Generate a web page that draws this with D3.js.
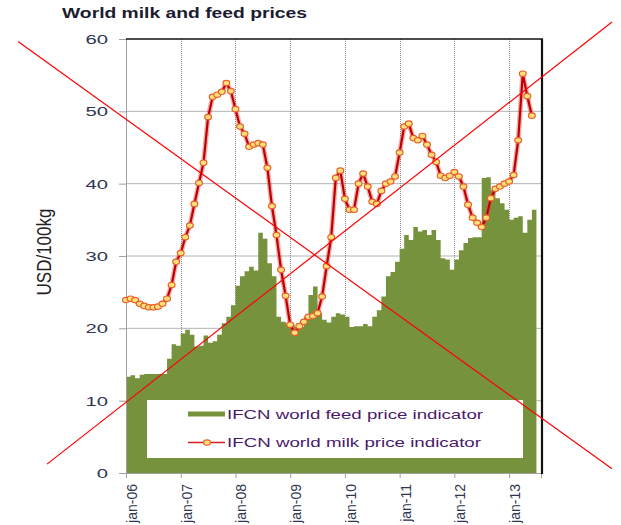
<!DOCTYPE html>
<html>
<head>
<meta charset="utf-8">
<script src="https://cdn.jsdelivr.net/npm/d3@7"></script>
<style>
  html, body { margin: 0; padding: 0; background: #fff; }
  svg { display: block; font-family: "Liberation Sans", Arial, sans-serif; }
</style>
</head>
<body>
<svg id="chart" width="621" height="525"></svg>
<script>
// ---- data (monthly, Jan 2006 .. Jun 2013), USD/100kg ----
const title = "World milk and feed prices";
const yTitle = "USD/100kg";
const seriesNames = ["IFCN world feed price indicator", "IFCN world milk price indicator"];
const tickLabels = ["jan-06", "jan-07", "jan-08", "jan-09", "jan-10", "jan-11", "jan-12", "jan-13"];
const yTicks = [0, 10, 20, 30, 40, 50, 60];

const milkPrice = [
  23.9, 24.1, 23.9, 23.4, 23.1, 22.9, 22.9, 23.0, 23.4, 24.1,
  26.0, 29.2, 30.4, 32.6, 34.2, 37.2, 40.1, 42.9, 49.2, 52.0,
  52.3, 52.7, 53.9, 52.8, 50.3, 47.9, 46.9, 45.1, 45.4, 45.6,
  45.4, 42.2, 36.9, 32.9, 28.1, 24.5, 20.5, 19.4, 20.3, 20.9,
  21.6, 21.7, 22.1, 24.4, 28.6, 32.6, 40.8, 41.8, 37.9, 36.4,
  36.4, 40.0, 41.4, 39.6, 37.5, 37.2, 39.0, 40.0, 40.3, 41.0,
  44.3, 47.9, 48.3, 46.3, 46.0, 46.6, 45.4, 44.0, 43.0, 41.1,
  40.8, 41.1, 41.6, 41.0, 39.6, 37.1, 35.3, 34.6, 34.0, 35.3,
  38.0, 39.3, 39.6, 40.0, 40.3, 41.2, 46.0, 55.2, 52.1, 49.4
];

const feedPrice = [
  13.3, 13.5, 13.1, 13.6, 13.7, 13.7, 13.7, 13.7, 13.7, 15.8,
  17.8, 17.6, 19.3, 19.8, 19.1, 17.5, 17.6, 19.0, 18.0, 18.2,
  19.1, 20.7, 21.6, 23.2, 25.9, 27.2, 27.9, 28.5, 28.0, 33.2,
  32.4, 29.0, 27.2, 21.6, 20.9, 20.7, 20.5, 20.2, 20.2, 21.6,
  24.6, 25.8, 22.1, 21.2, 20.8, 21.6, 22.1, 21.9, 21.6, 20.2,
  20.3, 20.3, 20.6, 20.3, 21.6, 22.5, 24.4, 27.2, 27.8, 29.2,
  31.0, 32.9, 32.2, 34.0, 33.4, 33.6, 32.9, 33.6, 32.2, 29.7,
  29.5, 28.1, 29.5, 30.8, 31.8, 32.5, 32.6, 32.6, 40.8, 40.9,
  39.1, 38.0, 37.3, 36.4, 35.0, 35.3, 35.5, 33.2, 35.0, 36.4
];

// ---- layout ----
const svg = d3.select("#chart");
const W = 621, H = 525;
const plot = { left: 126, right: 541, top: 39, bottom: 473 };
const monthsPerYear = 12;

const x = d3.scaleLinear().domain([0, 91]).range([plot.left, plot.right]);
const y = d3.scaleLinear().domain([0, 60]).range([plot.bottom, plot.top]);

const feedColor = "#76923c";
const textColor = "#2e3550";

// horizontal gridlines
svg.append("g").selectAll("line").data(yTicks.filter(v => v > 0 && v < 60)).join("line")
  .attr("x1", plot.left).attr("x2", plot.right)
  .attr("y1", d => y(d)).attr("y2", d => y(d))
  .attr("stroke", "#b4b4b4").attr("stroke-width", 1);

// vertical dotted gridlines at years
const yearIdx = tickLabels.map((t, i) => i * monthsPerYear);
svg.append("g").selectAll("line").data(yearIdx.slice(1)).join("line")
  .attr("x1", d => Math.round(x(d)) + 0.5).attr("x2", d => Math.round(x(d)) + 0.5)
  .attr("y1", plot.top).attr("y2", plot.bottom)
  .attr("stroke", "#8a8a8a").attr("stroke-width", 1).attr("stroke-dasharray", "1,1");

// feed area (columns with no gap)
const feedData = feedPrice.map((v, i) => ({ m: i, v }));
feedData.push({ m: feedPrice.length, v: feedPrice[feedPrice.length - 1] });
svg.append("path")
  .datum(feedData)
  .attr("fill", feedColor)
  .attr("d", d3.area().curve(d3.curveStepAfter)
    .x(d => x(d.m)).y0(y(0)).y1(d => y(d.v)));

// axes
const yAxis = d3.axisLeft(y).tickValues(yTicks).tickSize(7).tickFormat("");
const gy = svg.append("g").attr("transform", `translate(${plot.left},0)`).call(yAxis);
gy.select(".domain").attr("stroke", "#a0a0a0");
gy.selectAll(".tick line").attr("stroke", "#a0a0a0");

const xAxis = d3.axisBottom(x).tickValues(yearIdx).tickSize(5).tickFormat("");
const gx = svg.append("g").attr("transform", `translate(0,${plot.bottom})`).call(xAxis);
gx.select(".domain").attr("stroke", "#a0a0a0");
gx.selectAll(".tick line").attr("stroke", "#a0a0a0");

// frame: top black line and right black border
svg.append("line").attr("x1", plot.left).attr("x2", plot.right + 2)
  .attr("y1", plot.top).attr("y2", plot.top).attr("stroke", "#111").attr("stroke-width", 1.5);
svg.append("line").attr("x1", plot.right + 1).attr("x2", plot.right + 1)
  .attr("y1", plot.top).attr("y2", plot.bottom + 1).attr("stroke", "#111").attr("stroke-width", 2.2);

// y tick labels
svg.append("g").selectAll("text").data(yTicks).join("text")
  .attr("transform", d => `translate(108,${y(d) + 5}) scale(1.5,1)`)
  .attr("text-anchor", "end")
  .attr("font-size", 13.5)
  .attr("fill", textColor)
  .text(d => d);

// x tick labels (rotated)
svg.append("g").selectAll("text").data(tickLabels).join("text")
  .attr("transform", (d, i) => `translate(${x(yearIdx[i]) + 11},484) scale(1.05,1) rotate(-90)`)
  .attr("text-anchor", "end")
  .attr("font-size", 14)
  .attr("fill", textColor)
  .text(d => d);

// y axis title
svg.append("text")
  .attr("transform", "translate(51,252) scale(1.22,1) rotate(-90)")
  .attr("text-anchor", "middle")
  .attr("font-size", 17)
  .attr("fill", "#222")
  .text(yTitle);

// title
svg.append("text")
  .attr("x", 62).attr("y", 18)
  .attr("font-size", 14).attr("font-weight", "bold")
  .attr("textLength", 245).attr("lengthAdjust", "spacingAndGlyphs")
  .attr("fill", "#1c1c30")
  .text(title);

// milk line
const milkLine = d3.line().x((d, i) => x(i)).y(d => y(d));
svg.append("path").datum(milkPrice)
  .attr("fill", "none").attr("stroke", "#e05050").attr("stroke-opacity", 0.45)
  .attr("stroke-width", 5).attr("stroke-linejoin", "round")
  .attr("d", milkLine);
svg.append("path").datum(milkPrice)
  .attr("fill", "none").attr("stroke", "#c00000")
  .attr("stroke-width", 2.2).attr("stroke-linejoin", "round")
  .attr("d", milkLine);
svg.append("g").selectAll("ellipse").data(milkPrice).join("ellipse")
  .attr("cx", (d, i) => x(i)).attr("cy", d => y(d))
  .attr("rx", 3.4).attr("ry", 2.7)
  .attr("fill", "#ffe07a").attr("stroke", "#e8602a").attr("stroke-width", 1.2);

// legend
const lg = svg.append("g");
lg.append("rect").attr("x", 147).attr("y", 400).attr("width", 376).attr("height", 58)
  .attr("fill", "#fff");
lg.append("line").attr("x1", 188).attr("x2", 225).attr("y1", 414).attr("y2", 414)
  .attr("stroke", feedColor).attr("stroke-width", 5);
lg.append("line").attr("x1", 188).attr("x2", 225).attr("y1", 442.5).attr("y2", 442.5)
  .attr("stroke", "#d02020").attr("stroke-width", 1.5);
lg.append("ellipse").attr("cx", 207).attr("cy", 442.5).attr("rx", 3.4).attr("ry", 2.7)
  .attr("fill", "#ffe07a").attr("stroke", "#e8602a").attr("stroke-width", 1.2);
lg.selectAll("text.leg").data(seriesNames).join("text")
  .attr("class", "leg")
  .attr("x", 227).attr("y", (d, i) => 419 + i * 28)
  .attr("font-size", 13)
  .attr("textLength", (d, i) => i === 0 ? 256 : 254).attr("lengthAdjust", "spacingAndGlyphs")
  .attr("fill", "#4a1a6a")
  .text(d => d);

// red cross-out lines over the whole picture
svg.append("line").attr("x1", W * 0.029).attr("y1", H * 0.079).attr("x2", W * 0.9855).attr("y2", H * 0.893)
  .attr("stroke", "#ff0000").attr("stroke-width", 1.2);
svg.append("line").attr("x1", W * 0.0757).attr("y1", H * 0.884).attr("x2", W * 0.9855).attr("y2", H * 0.042)
  .attr("stroke", "#ff0000").attr("stroke-width", 1.2);
</script>
</body>
</html>
